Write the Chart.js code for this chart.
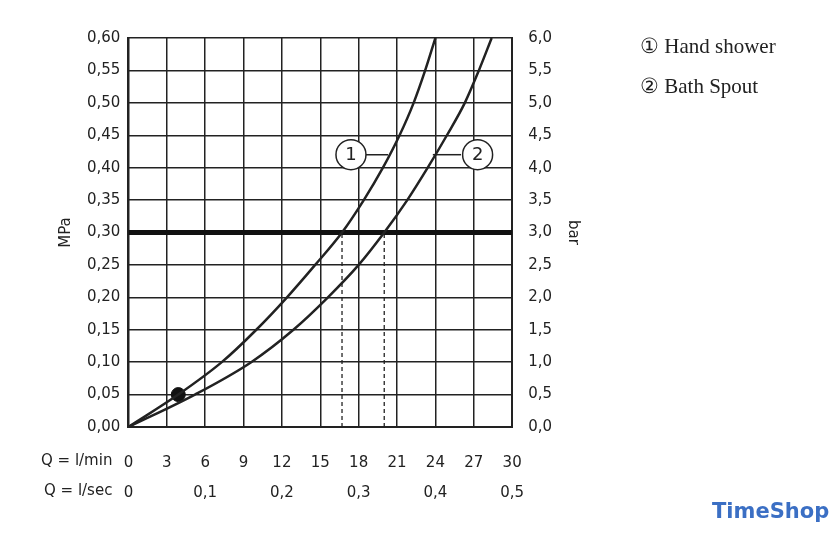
<!DOCTYPE html>
<html><head><meta charset="utf-8">
<script src="https://cdn.jsdelivr.net/npm/chart.js@4/dist/chart.umd.min.js"></script>
<style>body{margin:0;background:#fff}#wrap{width:840px;height:546px;position:relative}</style>
</head><body><div id="wrap"><canvas id="c"></canvas></div>
<script>
// flow (l/min) vs pressure (MPa)
const pressureMPa = [0, 0.05, 0.10, 0.15, 0.20, 0.25, 0.30, 0.35, 0.40, 0.45, 0.50, 0.55, 0.60];
const handShowerQ = [0, 3.9, 7.3, 10.0, 12.4, 14.6, 16.7, 18.4, 19.9, 21.2, 22.3, 23.2, 24.0];
const bathSpoutQ = [0, 5.2, 9.6, 12.9, 15.6, 18.0, 20.0, 21.8, 23.4, 24.9, 26.3, 27.4, 28.4];
const markerPoint = [{x: 3.9, y: 0.05}];
const workPressure = 0.3;
const legendLabels = ['\u2460 Hand shower', '\u2461 Bath Spout'];

const pts = (xs, ys) => xs.map((x, i) => ({x: x, y: ys[i]}));
const comma = (v, d) => v.toFixed(d).replace('.', ',');

const overlay = {
    id: 'overlay',
    afterDraw(chart) {
        const c = chart.ctx, xs = chart.scales.x, ys = chart.scales.y;
        const lx = xs.left - 16;
        c.save();
        c.fillStyle = '#222';
        c.font = '15px "DejaVu Sans"';
        c.textAlign = 'right';
        c.textBaseline = 'middle';
        c.fillText('Q = l/min', lx, 461);
        c.fillText('Q = l/sec', lx, 491);
        // circled labels
        const cy = ys.getPixelForValue(0.42);
        const circ = (cx, t) => {
            c.beginPath(); c.arc(cx, cy, 15, 0, Math.PI * 2);
            c.fillStyle = '#fff'; c.fill();
            c.lineWidth = 1.5; c.strokeStyle = '#222'; c.stroke();
            c.fillStyle = '#222'; c.textAlign = 'center'; c.font = '18px "DejaVu Sans"';
            c.fillText(t, cx, cy + 1);
        };
        c.lineWidth = 1.5; c.strokeStyle = '#222';
        c.beginPath(); c.moveTo(xs.getPixelForValue(17.5), cy); c.lineTo(xs.getPixelForValue(20.3), cy); c.stroke();
        c.beginPath(); c.moveTo(xs.getPixelForValue(26), cy); c.lineTo(xs.getPixelForValue(23.8), cy); c.stroke();
        circ(xs.getPixelForValue(17.4), '1');
        circ(xs.getPixelForValue(27.3), '2');
        // legend
        c.textAlign = 'left';
        c.font = '21px "Liberation Serif"';
        c.fillText(legendLabels[0], 640, 47);
        c.fillText(legendLabels[1], 640, 87);
        // watermark
        c.font = 'bold 21px "DejaVu Sans"';
        c.fillStyle = '#3b6fc4';
        c.fillText('TimeShop', 712, 513);
        c.restore();
    }
};

const line = {showLine: true, cubicInterpolationMode: 'monotone', borderColor: '#222', borderWidth: 2.5, pointRadius: 0};

new Chart(document.getElementById('c'), {
    type: 'scatter',
    data: {
        datasets: [
            Object.assign({data: pts(handShowerQ, pressureMPa)}, line),
            Object.assign({data: pts(bathSpoutQ, pressureMPa)}, line),
            {data: [{x: 0, y: workPressure}, {x: 30, y: workPressure}], showLine: true, borderColor: '#111', borderWidth: 5, pointRadius: 0},
            {data: [{x: handShowerQ[6], y: 0}, {x: handShowerQ[6], y: workPressure}], showLine: true, borderColor: '#222', borderWidth: 1.3, borderDash: [4, 3], pointRadius: 0},
            {data: [{x: bathSpoutQ[6], y: 0}, {x: bathSpoutQ[6], y: workPressure}], showLine: true, borderColor: '#222', borderWidth: 1.3, borderDash: [4, 3], pointRadius: 0},
            {data: markerPoint, pointRadius: 7, backgroundColor: '#111', borderColor: '#111'}
        ]
    },
    options: {
        responsive: true, maintainAspectRatio: false, animation: false,
        layout: {padding: {left: 53, right: 254, top: 38, bottom: 17}},
        plugins: {legend: {display: false}, tooltip: {enabled: false}},
        scales: {
            x: {
                min: 0, max: 30,
                ticks: {stepSize: 3, color: '#222', font: {size: 15, family: 'DejaVu Sans', lineHeight: 2}, padding: 21, maxRotation: 0,
                    callback: v => [String(v), v === 0 ? '0' : (v % 6 === 0 ? comma(v / 60, 1) : '')]},
                grid: {color: '#222', lineWidth: 1.5, drawTicks: false},
                border: {color: '#222', width: 2}
            },
            y: {
                min: 0, max: 0.6,
                ticks: {stepSize: 0.05, color: '#222', font: {size: 15, family: 'DejaVu Sans'}, padding: 8, callback: v => comma(v, 2)},
                grid: {color: '#222', lineWidth: 1.5, drawTicks: false},
                border: {color: '#222', width: 2},
                title: {display: true, text: 'MPa', color: '#222', font: {size: 15, family: 'DejaVu Sans'}}
            },
            y2: {
                position: 'right', min: 0, max: 6,
                ticks: {stepSize: 0.5, color: '#222', font: {size: 15, family: 'DejaVu Sans'}, padding: 8, callback: v => comma(v, 1)},
                grid: {display: false},
                border: {color: '#222', width: 2},
                title: {display: true, text: 'bar', color: '#222', font: {size: 15, family: 'DejaVu Sans'}}
            }
        }
    },
    plugins: [overlay]
});
</script></body></html>
